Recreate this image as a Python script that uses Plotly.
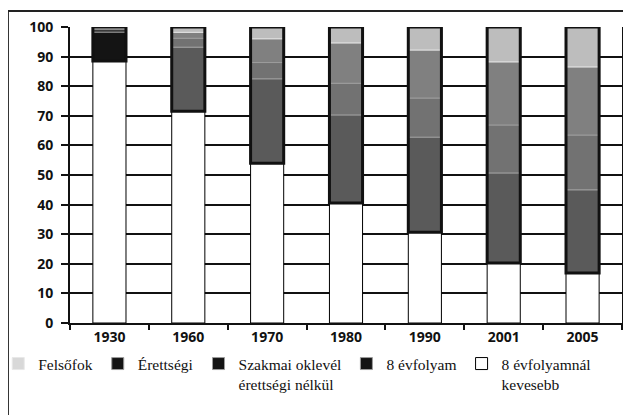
import plotly.graph_objects as go

years = ["1930", "1960", "1970", "1980", "1990", "2001", "2005"]
series_names = ["8 évfolyamnál<br>kevesebb", "8 évfolyam", "Szakmai oklevél<br>érettségi nélkül", "Érettségi", "Felsőfok"]
kevesebb = [88.5, 71.5, 54.0, 40.5, 30.7, 20.3, 16.9]
evfolyam8 = [9.8, 21.7, 28.5, 29.8, 32.1, 30.4, 28.1]
szakmai = [0.8, 3.0, 5.5, 10.7, 13.2, 16.2, 18.5]
erettsegi = [0.5, 2.0, 8.0, 13.6, 16.2, 21.3, 23.0]
felsofok = [0.4, 1.8, 4.0, 5.4, 7.8, 11.8, 13.5]
y_ticks = [0, 10, 20, 30, 40, 50, 60, 70, 80, 90, 100]

series = [kevesebb, evfolyam8, szakmai, erettsegi, felsofok]
colors = ["#ffffff", "#5a5a5a", "#727272", "#808080", "#bdbdbd"]
first_colors = ["#ffffff", "#141414", "#141414", "#141414", "#d8d8d8"]
line_colors = ["#000000", "#9c9c9c", "#9c9c9c", "#9c9c9c", "#e8e8e8"]

fig = go.Figure()
base = [0.0] * len(years)
for name, vals, col, fc, lc in zip(series_names, series, colors, first_colors, line_colors):
    cols = [fc] + [col] * (len(years) - 1)
    fig.add_trace(go.Bar(
        x=years, y=vals, base=list(base), name=name,
        marker=dict(color=cols, line=dict(color=lc, width=1)),
        width=0.42,
    ))
    base = [b + v for b, v in zip(base, vals)]

# thick outline around the stacked upper part
tops = base
fig.add_trace(go.Bar(
    x=years, y=[t - k for t, k in zip(tops, kevesebb)], base=kevesebb,
    marker=dict(color="rgba(0,0,0,0)", line=dict(color="#111111", width=3)),
    width=0.42, showlegend=False, hoverinfo="skip",
))

fig.update_layout(
    width=631, height=415,
    barmode="overlay",
    paper_bgcolor="white", plot_bgcolor="white",
    margin=dict(l=62, r=17, t=19, b=100, autoexpand=False),
    font=dict(family="Open Sans", color="#111111"),
    showlegend=True,
    legend=dict(
        orientation="h", traceorder="reversed",
        x=-0.13, xanchor="left", y=-0.081, yanchor="top",
        font=dict(family="Liberation Serif", size=15.5, color="#111111"),
        valign="top", itemwidth=30, tracegroupgap=0,
        bgcolor="rgba(0,0,0,0)",
    ),
    xaxis=dict(
        type="category", showgrid=False, showline=True, linecolor="#111111", linewidth=2,
        ticks="outside", tickson="boundaries", ticklen=5, tickcolor="#111111", tickwidth=1.5,
        tickfont=dict(family="Open Sans", size=14, color="#111111", weight="bold"),
        mirror=False, zeroline=False,
    ),
    yaxis=dict(
        range=[0, 100], tickvals=y_ticks, showgrid=True, gridcolor="#111111", gridwidth=1.8,
        showline=True, linecolor="#111111", linewidth=2, mirror=True,
        ticks="outside", ticklen=7, tickcolor="#111111", tickwidth=1.5,
        ticklabelstandoff=5,
        tickfont=dict(family="Open Sans", size=14, color="#111111", weight="bold"),
        zeroline=False,
    ),
    shapes=[dict(
        type="rect", xref="paper", yref="paper",
        x0=-0.1123, x1=1.05, y0=-0.32, y1=1.054,
        line=dict(color="#222222", width=1.8), fillcolor="rgba(0,0,0,0)", layer="above",
    )],
)

fig.write_html("out.html")
